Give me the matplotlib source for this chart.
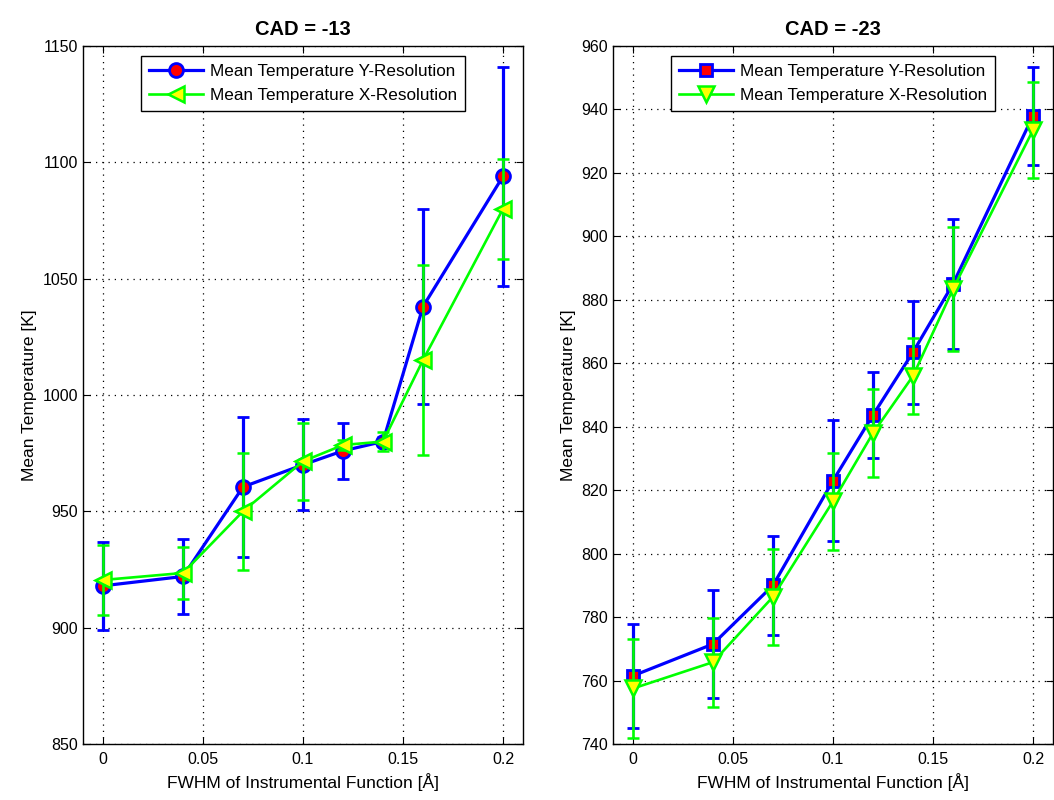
import matplotlib
matplotlib.use("Agg")
import matplotlib.pyplot as plt
from matplotlib.lines import Line2D

plt.rcParams['font.family'] = ['Liberation Sans', 'DejaVu Sans']

# FWHM values (same for both panels)
fwhm = [0, 0.04, 0.07, 0.1, 0.12, 0.14, 0.16, 0.2]

# CAD = -13
y_res_13 = [918, 922, 960.5, 970, 976, 980, 1038, 1094]
y_err_13 = [19, 16, 30, 19.5, 12, 2, 42, 47]
x_res_13 = [920.5, 923.5, 950, 971.5, 978.5, 980, 1015, 1080]
x_err_13 = [15, 11, 25, 16.5, 2, 4, 41, 21.5]

# CAD = -23
y_res_23 = [761.5, 771.5, 790, 823, 843.7, 863.5, 885, 938]
y_err_23 = [16.3, 17, 15.5, 19, 13.5, 16.2, 20.5, 15.5]
x_res_23 = [757.5, 765.8, 786.4, 816.5, 838, 856, 883.4, 933.5]
x_err_23 = [15.5, 14, 15.2, 15.3, 14, 12, 19.4, 15]

xticks = [0, 0.05, 0.1, 0.15, 0.2]
xticklabels = ['0', '0.05', '0.1', '0.15', '0.2']

panels = [
    ("CAD = -13", y_res_13, y_err_13, x_res_13, x_err_13, 'o', '<',
     (850, 1150), list(range(850, 1151, 50))),
    ("CAD = -23", y_res_23, y_err_23, x_res_23, x_err_23, 's', 'v',
     (740, 960), list(range(740, 961, 20))),
]

fig = plt.figure(figsize=(10.54, 8), dpi=100)
lefts = [83 / 1054, 613 / 1054]

for left, (title, yr, ye, xr, xe, m1, m2, ylim, yticks) in zip(lefts, panels):
    ax = fig.add_axes([left, 0.07, 440 / 1054, 0.8725])
    blue = dict(color='#0000ff', lw=2.3, marker=m1, markersize=10 if m1 == 'o' else 9,
                markerfacecolor='#ff0000', markeredgecolor='#0000ff', markeredgewidth=2)
    green = dict(color='#00ff00', lw=1.9, marker=m2, markersize=11,
                 markerfacecolor='#ffff00', markeredgecolor='#00ff00', markeredgewidth=1.8)
    ax.errorbar(fwhm, yr, yerr=ye, elinewidth=2.3, capsize=4.5, capthick=2, zorder=3, **blue)
    ax.errorbar(fwhm, xr, yerr=xe, elinewidth=1.9, capsize=4.5, capthick=2, zorder=4, **green)
    ax.set_xlim(-0.01, 0.21)
    ax.set_ylim(*ylim)
    ax.set_xticks(xticks)
    ax.set_xticklabels(xticklabels)
    ax.set_yticks(yticks)
    ax.grid(True, color='black', linestyle=(0, (1, 4)), linewidth=0.9)
    ax.tick_params(direction='in', top=True, right=True, labelsize=11.5, length=5)
    ax.tick_params(axis='x', pad=6)
    for s in ax.spines.values():
        s.set_linewidth(1)
    ax.set_xlabel('FWHM of Instrumental Function [Å]', fontsize=12.5)
    ax.set_ylabel('Mean Temperature [K]', fontsize=12.5)
    ax.set_title(title, fontsize=14.5, fontweight='bold', pad=8)
    handles = [Line2D([], [], **blue), Line2D([], [], **green)]
    labels = ['Mean Temperature Y-Resolution', 'Mean Temperature X-Resolution']
    leg = ax.legend(handles, labels, loc='upper center', fontsize=12.3, fancybox=False,
                    framealpha=1, edgecolor='black', borderaxespad=0.6, handlelength=3.2,
                    handletextpad=0.4, labelspacing=0.55, borderpad=0.45)
    leg.get_frame().set_linewidth(1)

fig.savefig('out.png', dpi=100)
